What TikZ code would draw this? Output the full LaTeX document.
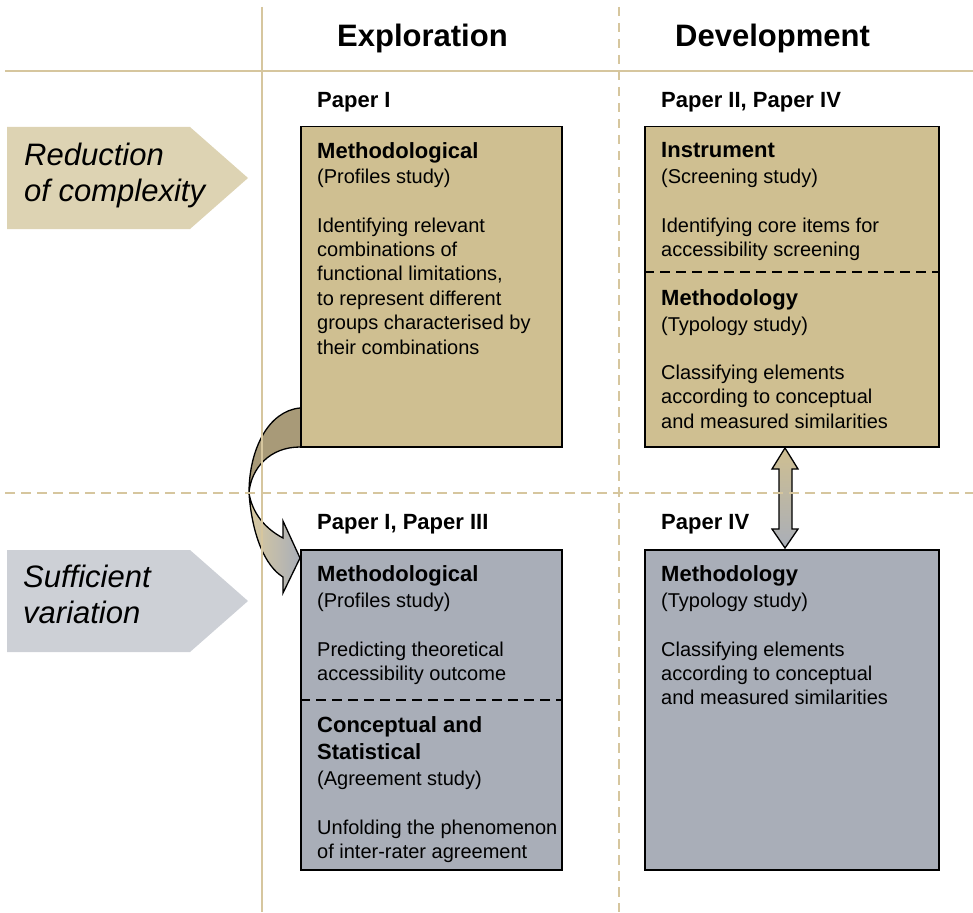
\documentclass[tikz,border=0pt]{standalone}
\usepackage{fontspec}
\setmainfont{Liberation Sans}
\definecolor{tanline}{HTML}{D6C69E}
\definecolor{tanbox}{HTML}{CFBF91}
\definecolor{graybox}{HTML}{A9AEB8}
\definecolor{tanpent}{HTML}{DDD3B3}
\definecolor{graypent}{HTML}{CDD0D6}
\definecolor{arrdark}{HTML}{A89A78}
\definecolor{arrlight}{HTML}{D9CAA0}
\pgfdeclarelayer{background}
\pgfsetlayers{background,main}
\tikzset{
  gridsolid/.style={draw=tanline, line width=2.7pt},
  griddash/.style={draw=tanline, line width=2.7pt, dash pattern=on 9.5pt off 6.5pt},
  boxnode/.style={draw=black, line width=1.5pt, inner sep=0pt, anchor=north west, minimum height=320pt},
  divider/.style={draw=black, line width=1.5pt, dash pattern=on 10pt off 6pt},
  ttl/.style={inner sep=0pt, align=left, anchor=north west, font=\fontsize{22}{27}\selectfont\bfseries},
  body/.style={inner sep=0pt, align=left, anchor=north west, font=\fontsize{20}{24.4}\selectfont},
  head/.style={inner sep=0pt, anchor=north west, font=\fontsize{31}{36}\selectfont\bfseries},
  pent/.style={inner sep=0pt, align=left, anchor=north west, font=\fontsize{31}{36}\selectfont\itshape},
  shapeline/.style={draw=black, line width=1.3pt, line join=miter}
}
\begin{document}
\begin{tikzpicture}[x=1pt,y=-1pt]
\useasboundingbox (0,0) rectangle (973,912);

% grid
\draw[gridsolid] (262,7) -- (262,912);
\draw[gridsolid] (5,71) -- (973,71);
\draw[griddash] (619,7) -- (619,912);
\draw[griddash] (5,493) -- (973,493);

% headings
\node[head] (hexp) at (337,23) {\rule{0pt}{23pt}Exploration};
\node[head] (hdev) at (675,23) {\rule{0pt}{23pt}Development};

% row pentagons
\fill[tanpent] (7,127) -- (190,127) -- (248,178) -- (190,229) -- (7,229) -- cycle;
\fill[graypent] (7,550) -- (190,550) -- (248,601) -- (190,652) -- (7,652) -- cycle;
\node[pent] (rred) at (24,142) {\rule{0pt}{23pt}Reduction\\of complexity};
\node[pent] (rsuf) at (23,564) {\rule{0pt}{23pt}Sufficient\\variation};

% boxes
\node[boxnode, fill=tanbox, minimum width=261pt] (b1) at (300,126) {};
\node[boxnode, fill=tanbox, minimum width=294pt] (b2) at (644,126) {};
\node[boxnode, fill=graybox, minimum width=261pt] (b3) at (300,549) {};
\node[boxnode, fill=graybox, minimum width=294pt] (b4) at (644,549) {};

\coordinate (d2) at (644,272);
\coordinate (d3) at (300,700);
\draw[divider] (d2) -- (d2 -| b2.east);
\draw[divider] (d3) -- (d3 -| b3.east);

% paper labels
\node[ttl] (p1) at (317,90) {\rule{0pt}{17pt}Paper I};
\node[ttl] (p2) at (661,90) {\rule{0pt}{17pt}Paper II, Paper IV};
\node[ttl] (p3) at (317,512) {\rule{0pt}{17pt}Paper I, Paper III};
\node[ttl] (p4) at (661,512) {\rule{0pt}{17pt}Paper IV};

% box 1
\node[ttl] (b1t) at (317,141) {\rule{0pt}{17pt}Methodological};
\node[body] (b1b) at (317,168) {\rule{0pt}{15pt}(Profiles study)\\[24.4pt]Identifying relevant\\combinations of\\functional limitations,\\to represent different\\groups characterised by\\their combinations};

% box 2
\node[ttl] (b2t) at (661,140) {\rule{0pt}{17pt}Instrument};
\node[body] (b2b) at (661,168) {\rule{0pt}{15pt}(Screening study)\\[24.4pt]Identifying core items for\\accessibility screening};
\node[ttl] (b2t2) at (661,288) {\rule{0pt}{17pt}Methodology};
\node[body] (b2b2) at (661,316) {\rule{0pt}{15pt}(Typology study)\\[23.6pt]Classifying elements\\according to conceptual\\and measured similarities};

% box 3
\node[ttl] (b3t) at (317,564) {\rule{0pt}{17pt}Methodological};
\node[body] (b3b) at (317,592) {\rule{0pt}{15pt}(Profiles study)\\[24.4pt]Predicting theoretical\\accessibility outcome};
\node[ttl] (b3t2) at (317,715) {\rule{0pt}{17pt}Conceptual and\\Statistical};
\node[body] (b3b2) at (317,770) {\rule{0pt}{15pt}(Agreement study)\\[24.4pt]Unfolding the phenomenon\\of inter-rater agreement};

% box 4
\node[ttl] (b4t) at (661,564) {\rule{0pt}{17pt}Methodology};
\node[body] (b4b) at (661,592) {\rule{0pt}{15pt}(Typology study)\\[24.4pt]Classifying elements\\according to conceptual\\and measured similarities};

% arrows (behind boxes)
\begin{pgfonlayer}{background}
  % curved arrow from b1 to b3
  \path[fill=arrdark] (300,408) .. controls (268,411) and (249,450) .. (249,493)
        .. controls (251,468) and (270,447) .. (300,447) -- cycle;
  \path[left color=arrlight, right color=graybox] (249,493) .. controls (252,535) and (265,566) .. (283,577)
        -- (283,593) -- (300,558) -- (283,521) -- (283,538)
        .. controls (264,528) and (252,512) .. (249,493) -- cycle;
  \draw[shapeline] (300,408) .. controls (268,411) and (249,450) .. (249,493)
        .. controls (252,535) and (265,566) .. (283,577)
        -- (283,593) -- (300,558) -- (283,521) -- (283,538)
        .. controls (264,528) and (252,512) .. (249,493)
        .. controls (251,468) and (270,447) .. (300,447);
  % double arrow between b2 and b4
  \path[shapeline, top color=tanbox, bottom color=graybox]
        (785,448) -- (798,469) -- (792,469) -- (792,529) -- (798,529) -- (785,548)
        -- (772,529) -- (779,529) -- (779,469) -- (772,469) -- cycle;
\end{pgfonlayer}
\end{tikzpicture}
\end{document}
